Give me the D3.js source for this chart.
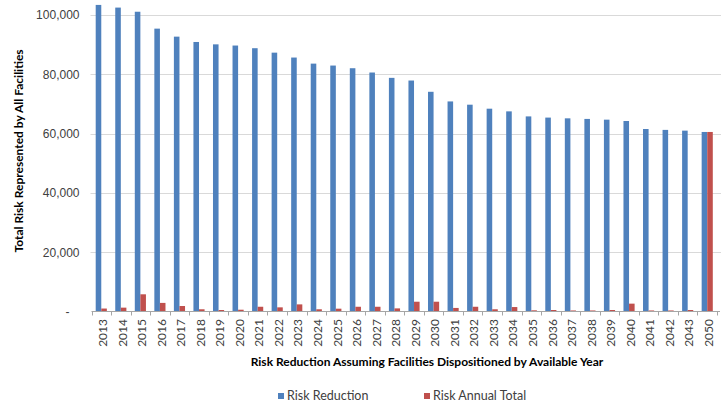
<!DOCTYPE html>
<html>
<head>
<meta charset="utf-8">
<script src="https://cdn.jsdelivr.net/npm/d3@7"></script>
<style>
  html, body { margin: 0; padding: 0; background: #fff; }
  svg { display: block; font-family: Lato, "Open Sans", sans-serif; }
</style>
</head>
<body>
<svg id="chart" width="726" height="408"></svg>
<script>
// Disposition years
const years = ["2013","2014","2015","2016","2017","2018","2019","2020","2021","2022",
  "2023","2024","2025","2026","2027","2028","2029","2030","2031","2032","2033","2034",
  "2035","2036","2037","2038","2039","2040","2041","2042","2043","2050"];

// Remaining total risk after each year's dispositions
const riskReduction = [103400,102500,101100,95400,92700,90900,90100,89700,88800,87300,
  85650,83600,82950,82050,80600,78800,77900,74100,70850,69750,68400,67500,
  65800,65400,65150,64950,64700,64250,61550,61250,61000,60550];

// Risk removed in each individual year
const riskAnnualTotal = [1000,1300,5800,2900,1850,750,500,600,1600,1400,
  2400,750,950,1600,1600,1050,3300,3300,1200,1600,750,1500,
  400,500,350,350,500,2650,350,350,500,60550];

const seriesNames = ["Risk Reduction", "Risk Annual Total"];
const colors = ["#4f81bd", "#c0504d"];
const yTicks = [0, 20000, 40000, 60000, 80000, 100000];

const svg = d3.select("#chart");
const plotLeft = 91.5, plotRight = 717, plotBottom = 311.5, plotTop = 15;

const x = d3.scaleBand().domain(years).range([plotLeft, plotRight])
  .paddingInner(0.43).paddingOuter(0.215);
const x1 = d3.scaleBand().domain(seriesNames).range([0, x.bandwidth()]);
const y = d3.scaleLinear().domain([0, 100000]).range([plotBottom, plotTop]);

// Horizontal gridlines
svg.append("g").selectAll("line")
  .data(yTicks.filter(d => d > 0))
  .join("line")
  .attr("x1", plotLeft - 1).attr("x2", plotRight + 4)
  .attr("y1", d => Math.round(y(d)) + 0.5).attr("y2", d => Math.round(y(d)) + 0.5)
  .attr("stroke", "#d9d9d9").attr("stroke-width", 1);

// Y axis labels
const yAxis = svg.append("g")
  .attr("transform", `translate(${plotLeft},0)`)
  .call(d3.axisLeft(y).tickValues(yTicks).tickSize(0).tickPadding(12)
    .tickFormat(d => d === 0 ? "-" : d3.format(",")(d)));
yAxis.select(".domain").remove();
yAxis.selectAll("text")
  .attr("fill", "#404040").attr("font-size", 12)
  .attr("dx", d => d === 0 ? -10 : 0);

// Bars
const rows = years.map((yr, i) => ({ year: yr, values: [riskReduction[i], riskAnnualTotal[i]] }));
svg.append("g").selectAll("g")
  .data(rows)
  .join("g")
  .attr("transform", d => `translate(${x(d.year)},0)`)
  .selectAll("rect")
  .data(d => d.values.map((v, k) => ({ key: seriesNames[k], value: v, k })))
  .join("rect")
  .attr("x", d => x1(d.key))
  .attr("width", x1.bandwidth())
  .attr("y", d => y(d.value))
  .attr("height", d => y(0) - y(d.value))
  .attr("fill", d => colors[d.k]);

// Category axis line and boundary ticks
svg.append("line")
  .attr("x1", plotLeft).attr("x2", plotRight + 3)
  .attr("y1", plotBottom).attr("y2", plotBottom)
  .attr("stroke", "#a6a6a6").attr("stroke-width", 1);
const half = x.step() * x.paddingInner() / 2;
const bounds = years.map(yr => x(yr) - half).concat([x(years[years.length - 1]) + x.bandwidth() + half]);
svg.append("g").selectAll("line")
  .data(bounds)
  .join("line")
  .attr("x1", d => Math.round(d) + 0.5).attr("x2", d => Math.round(d) + 0.5)
  .attr("y1", plotBottom).attr("y2", plotBottom + 4)
  .attr("stroke", "#a6a6a6");

// Year labels, rotated
svg.append("g").selectAll("text")
  .data(years)
  .join("text")
  .attr("transform", d => `translate(${x(d) + x.bandwidth() / 2 + 1.5},319) rotate(-90)`)
  .attr("text-anchor", "end")
  .attr("dy", "0.35em")
  .attr("font-size", 12)
  .attr("fill", "#404040")
  .text(d => d);

// Axis titles
svg.append("text")
  .attr("x", 427).attr("y", 366)
  .attr("text-anchor", "middle")
  .attr("font-size", 12).attr("font-weight", "bold")
  .attr("fill", "#000")
  .text("Risk Reduction Assuming Facilities Dispositioned by Available Year");

svg.append("text")
  .attr("transform", "translate(22.5,151) rotate(-90)")
  .attr("text-anchor", "middle")
  .attr("font-size", 12).attr("font-weight", "bold")
  .attr("fill", "#000")
  .text("Total Risk Represented by All Facilities");

// Legend
const legendX = [278, 424];
const legend = svg.append("g").selectAll("g")
  .data(seriesNames)
  .join("g")
  .attr("transform", (d, i) => `translate(${legendX[i]},400)`);
legend.append("rect")
  .attr("x", 0).attr("y", -7).attr("width", 6).attr("height", 6)
  .attr("fill", (d, i) => colors[i]);
legend.append("text")
  .attr("x", 9).attr("y", 0)
  .attr("font-size", 12.5).attr("fill", "#404040")
  .text(d => d);
</script>
</body>
</html>
